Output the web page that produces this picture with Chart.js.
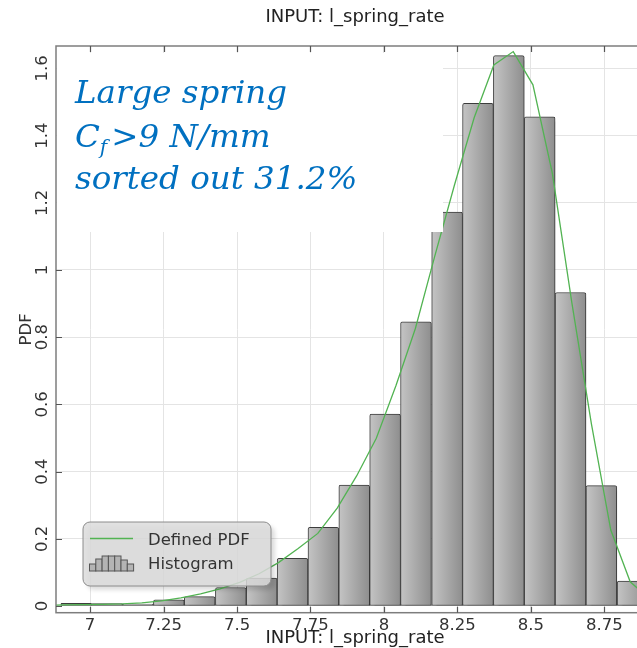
<!DOCTYPE html>
<html>
<head>
<meta charset="utf-8">
<title>INPUT: l_spring_rate</title>
<script src="https://cdn.jsdelivr.net/npm/chart.js@4.4.0/dist/chart.umd.min.js"></script>
<style>
  html, body { margin: 0; padding: 0; overflow: hidden; background: #fff; }
  #wrap { width: 660px; height: 648px; }
</style>
</head>
<body>
<div id="wrap"><canvas id="chart" width="660" height="648"></canvas></div>
<script>
// Histogram bins (bin centres) and their density
const binCenters = [6.953, 7.058, 7.163, 7.268, 7.373, 7.479, 7.584, 7.689, 7.794, 7.899,
                    8.004, 8.109, 8.215, 8.320, 8.425, 8.530, 8.635, 8.740, 8.846];
const binDensity = [0.008, 0.007, 0.006, 0.018, 0.028, 0.055, 0.083, 0.142, 0.234, 0.360,
                    0.571, 0.846, 1.172, 1.496, 1.638, 1.456, 0.933, 0.358, 0.074];

// Defined PDF curve
const pdfX = [6.843, 6.910, 6.977, 7.043, 7.109, 7.176, 7.243, 7.309, 7.376, 7.442, 7.509,
              7.575, 7.641, 7.708, 7.775, 7.841, 7.907, 7.974, 8.041, 8.107, 8.173, 8.240,
              8.307, 8.374, 8.440, 8.507, 8.573, 8.639, 8.706, 8.772, 8.838, 8.905, 8.972];
const pdfY = [0.002, 0.003, 0.004, 0.005, 0.006, 0.009, 0.015, 0.024, 0.036, 0.051, 0.070,
              0.096, 0.129, 0.171, 0.216, 0.291, 0.387, 0.499, 0.656, 0.826, 1.041, 1.253,
              1.453, 1.610, 1.650, 1.551, 1.288, 0.905, 0.542, 0.226, 0.072, 0.020, 0.005];

// Axis ticks
const xTicks = [7, 7.25, 7.5, 7.75, 8, 8.25, 8.5, 8.75];
const yTicks = [0, 0.2, 0.4, 0.6, 0.8, 1, 1.2, 1.4, 1.6];

// Text
const chartTitle = 'INPUT: l_spring_rate';
const xTitle = 'INPUT: l_spring_rate';
const yTitle = 'PDF';
const pdfLabel = 'Defined PDF';
const histLabel = 'Histogram';
const noteLine1 = 'Large spring';
const noteLine2 = ['C', 'f', '>9 N/mm'];
const noteLine3 = 'sorted out 31.2%';

const SANS = '"DejaVu Sans", Verdana, sans-serif';
const SERIF = '"DejaVu Serif", serif';
const GREEN = '#52b352';

function barGradient(ctx) {
  const chart = ctx.chart;
  const xs = chart.scales && chart.scales.x;
  if (!xs || ctx.type !== 'data' || !isFinite(xs.left)) return '#a8a8a8';
  const c = xs.getPixelForValue(binCenters[ctx.dataIndex]);
  const half = (xs.getPixelForValue(binCenters[1]) - xs.getPixelForValue(binCenters[0])) / 2;
  const g = chart.ctx.createLinearGradient(c - half, 0, c + half, 0);
  g.addColorStop(0, '#c4c4c4');
  g.addColorStop(1, '#8e8e8e');
  return g;
}

const decor = {
  id: 'decor',
  beforeDraw(chart) {
    const { ctx } = chart;
    ctx.save();
    ctx.fillStyle = '#ffffff';
    ctx.fillRect(0, 0, chart.width, chart.height);
    ctx.restore();
  },
  beforeDatasetDraw(chart, args) {
    if (args.meta.type === 'bar') {
      const ctx = chart.ctx;
      ctx.save();
      ctx.shadowColor = 'rgba(0,0,0,0.13)';
      ctx.shadowOffsetX = 5;
      ctx.shadowOffsetY = 5;
      ctx.shadowBlur = 2;
    }
  },
  afterDatasetDraw(chart, args) {
    if (args.meta.type === 'bar') chart.ctx.restore();
  },
  afterDatasetsDraw(chart) {
    const { ctx, chartArea: a, scales: { x, y } } = chart;
    ctx.save();

    // note panel
    const noteBottom = 232;
    const noteRight = 443;
    ctx.fillStyle = '#ffffff';
    ctx.fillRect(a.left + 1, a.top + 7, noteRight - a.left - 1, noteBottom - a.top - 7);
    ctx.fillStyle = '#0070c0';
    ctx.textBaseline = 'alphabetic';
    ctx.textAlign = 'left';
    ctx.font = 'italic 32.5px ' + SERIF;
    ctx.fillText(noteLine1, 75, 102.7);
    let cx = 75;
    ctx.fillText(noteLine2[0], cx, 147.3);
    cx += ctx.measureText(noteLine2[0]).width;
    ctx.font = 'italic 20px ' + SERIF;
    ctx.fillText(noteLine2[1], cx, 154);
    cx += ctx.measureText(noteLine2[1]).width + 4;
    ctx.font = 'italic 32.5px ' + SERIF;
    ctx.fillText(noteLine2[2], cx, 147.3);
    ctx.fillText(noteLine3, 75, 189.3);

    // frame
    ctx.strokeStyle = '#7d7d7d';
    ctx.lineWidth = 1.5;
    ctx.strokeRect(a.left, a.top, a.right - a.left, a.bottom - a.top);

    // inner tick marks
    ctx.strokeStyle = '#555';
    ctx.lineWidth = 1.2;
    ctx.beginPath();
    xTicks.forEach(v => {
      const px = Math.round(x.getPixelForValue(v)) + 0.5;
      ctx.moveTo(px, a.bottom); ctx.lineTo(px, a.bottom - 6);
      ctx.moveTo(px, a.top); ctx.lineTo(px, a.top + 6);
    });
    yTicks.forEach(v => {
      const py = Math.round(y.getPixelForValue(v)) + 0.5;
      if (py > noteBottom) { ctx.moveTo(a.left, py); ctx.lineTo(a.left + 6, py); }
    });
    ctx.stroke();

    // legend
    const lx = 83, ly = 522, lw = 188, lh = 64, r = 7;
    ctx.save();
    ctx.beginPath();
    ctx.roundRect(lx, ly, lw, lh, r);
    ctx.shadowColor = 'rgba(0,0,0,0.16)';
    ctx.shadowOffsetX = 4;
    ctx.shadowOffsetY = 4;
    ctx.shadowBlur = 4;
    ctx.fillStyle = 'rgba(220,220,220,0.85)';
    ctx.fill();
    ctx.restore();
    ctx.beginPath();
    ctx.roundRect(lx, ly, lw, lh, r);
    ctx.strokeStyle = '#8c8c8c';
    ctx.lineWidth = 1;
    ctx.stroke();

    ctx.strokeStyle = GREEN;
    ctx.lineWidth = 1.5;
    ctx.beginPath();
    ctx.moveTo(90, 538.5); ctx.lineTo(133, 538.5);
    ctx.stroke();

    const iconH = [7, 12, 15, 15, 15, 11, 7];
    const iconW = 6.3;
    ctx.lineWidth = 1;
    ctx.strokeStyle = '#555';
    iconH.forEach((h, i) => {
      const bx = 89.5 + i * iconW;
      ctx.fillStyle = '#b4b4b4';
      ctx.fillRect(bx, 571 - h, iconW, h);
      ctx.strokeRect(bx, 571 - h, iconW, h);
    });

    ctx.fillStyle = '#333';
    ctx.font = '16.5px ' + SANS;
    ctx.textBaseline = 'middle';
    ctx.fillText(chart.data.datasets[0].label, 148, 541);
    ctx.fillText(chart.data.datasets[1].label, 148, 565);
    ctx.restore();
  },
  afterDraw(chart) {
    const { ctx, chartArea: a, scales: { y } } = chart;
    ctx.save();
    const midX = (a.left + a.right) / 2;
    ctx.fillStyle = '#222';
    ctx.font = '18px ' + SANS;
    ctx.textAlign = 'center';
    ctx.textBaseline = 'middle';
    ctx.fillText(chartTitle, midX, 17);
    ctx.fillText(xTitle, midX, 638);

    // rotated y labels
    ctx.fillStyle = '#333';
    ctx.font = '16.5px ' + SANS;
    yTicks.forEach(v => {
      ctx.save();
      ctx.translate(43, y.getPixelForValue(v));
      ctx.rotate(-Math.PI / 2);
      ctx.fillText(String(v), 0, 0);
      ctx.restore();
    });
    ctx.save();
    ctx.translate(27, (a.top + a.bottom) / 2);
    ctx.rotate(-Math.PI / 2);
    ctx.fillText(yTitle, 0, 0);
    ctx.restore();
    ctx.restore();
  }
};

new Chart(document.getElementById('chart'), {
  data: {
    datasets: [
      {
        type: 'line',
        label: pdfLabel,
        data: pdfX.map((v, i) => ({ x: v, y: pdfY[i] })),
        borderColor: GREEN,
        borderWidth: 1.3,
        pointRadius: 0,
        tension: 0,
        fill: false,
        order: 0
      },
      {
        type: 'bar',
        label: histLabel,
        data: binCenters.map((v, i) => ({ x: v, y: binDensity[i] })),
        backgroundColor: barGradient,
        borderColor: '#3c3c3c',
        borderWidth: 1,
        borderSkipped: false,
        borderRadius: { topLeft: 2, topRight: 2, bottomLeft: 0, bottomRight: 0 },
        barPercentage: 1,
        categoryPercentage: 1,
        order: 1
      }
    ]
  },
  options: {
    responsive: false,
    animation: false,
    events: [],
    layout: { padding: { top: 46, right: 6, left: 0, bottom: 0 } },
    plugins: {
      legend: { display: false },
      title: { display: false },
      tooltip: { enabled: false }
    },
    scales: {
      x: {
        type: 'linear',
        offset: false,
        min: 6.884,
        max: 8.919,
        border: { display: false },
        grid: { color: '#e4e4e4', lineWidth: 1, drawTicks: false, offset: false },
        ticks: {
          font: { family: SANS, size: 16.5 },
          color: '#333',
          padding: 3,
          autoSkip: false,
          maxRotation: 0,
          callback: v => String(v)
        },
        afterBuildTicks: s => { s.ticks = xTicks.map(v => ({ value: v })); },
        afterFit: s => { s.height = 35.3; }
      },
      y: {
        type: 'linear',
        min: -0.02,
        max: 1.6666,
        border: { display: false },
        grid: { color: '#e4e4e4', lineWidth: 1, drawTicks: false },
        ticks: { display: false },
        afterBuildTicks: s => { s.ticks = yTicks.map(v => ({ value: v })); },
        afterFit: s => { s.width = 56; }
      }
    }
  },
  plugins: [decor]
});
</script>
</body>
</html>
